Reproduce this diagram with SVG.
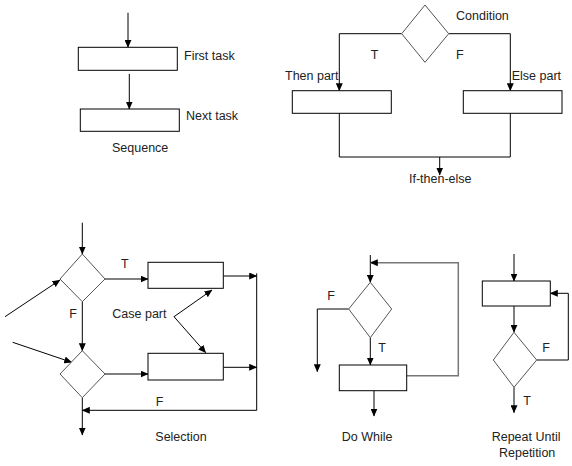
<svg xmlns="http://www.w3.org/2000/svg" width="572" height="466" viewBox="0 0 572 466">
<defs>
<marker id="ah" markerWidth="8" markerHeight="7" refX="7.5" refY="3.5" orient="auto" markerUnits="userSpaceOnUse">
<path d="M0,0 L8,3.5 L0,7 z" fill="#000"/>
</marker>
<style>
.box{fill:#fff;stroke:#000;stroke-width:1}
.dia{fill:#fff;stroke:#555;stroke-width:1}
.ln{fill:none;stroke:#000;stroke-width:1}
.gl{fill:none;stroke:#777;stroke-width:1.5}
.arr{marker-end:url(#ah)}
text{font-family:"Liberation Sans",Arial,sans-serif;font-size:12.5px;fill:#222}
</style>
</defs>
<rect width="572" height="466" fill="#fff"/>
<g id="connectors">
<!-- Sequence -->
<line class="ln arr" x1="128" y1="12.7" x2="128" y2="47.3"/>
<line class="ln arr" x1="129.3" y1="74" x2="129.3" y2="109"/>
<!-- If-then-else -->
<polyline class="ln arr" points="401.7,33.7 339.3,33.7 339.3,90.7"/>
<polyline class="ln arr" points="448.7,33.7 510.3,33.7 510.3,90.7"/>
<polyline class="ln" points="339.3,113.3 339.3,157 510.3,157 510.3,113.3"/>
<line class="ln arr" x1="439.7" y1="157" x2="439.7" y2="175"/>
<!-- Selection -->
<line class="ln arr" x1="82.3" y1="222.7" x2="82.3" y2="254"/>
<line class="ln arr" x1="5" y1="316.7" x2="60" y2="280"/>
<line class="ln arr" x1="105" y1="279" x2="148" y2="279"/>
<line class="ln arr" x1="223.3" y1="276" x2="256.7" y2="276"/>
<line class="ln arr" x1="82.3" y1="301.7" x2="82.3" y2="350.7"/>
<line class="ln arr" x1="12.7" y1="342.3" x2="71.7" y2="362.3"/>
<line class="ln arr" x1="105" y1="374" x2="148" y2="374"/>
<line class="ln arr" x1="223.3" y1="367.3" x2="256.7" y2="367.3"/>
<polyline class="ln arr" points="256.7,273.3 256.7,410.3 82.3,410.3"/>
<line class="ln arr" x1="82.3" y1="397.7" x2="82.3" y2="435"/>
<line class="ln arr" x1="174" y1="316.7" x2="212" y2="290"/>
<line class="ln arr" x1="174" y1="316.7" x2="205.7" y2="352.7"/>
<!-- Do While -->
<line class="ln arr" x1="370.3" y1="255" x2="370.3" y2="282.3"/>
<polyline class="gl arr" points="406.7,375.7 458.3,375.7 458.3,262.7 370.3,262.7"/>
<polyline class="ln arr" points="348.7,309 317.3,309 317.3,371.7"/>
<line class="ln arr" x1="370.3" y1="337.7" x2="370.3" y2="365"/>
<line class="ln arr" x1="374" y1="390.7" x2="374" y2="416"/>
<!-- Repeat Until -->
<line class="ln arr" x1="514" y1="254" x2="514" y2="281"/>
<line class="ln arr" x1="514" y1="306" x2="514" y2="332.3"/>
<polyline class="ln arr" points="536.7,360 568.3,360 568.3,293.3 550.3,293.3"/>
<line class="ln arr" x1="514" y1="387.3" x2="514" y2="412.7"/>
</g>
<g id="seq-first"><rect class="box" x="78.3" y="47.3" width="99" height="23"/><text x="184" y="59.5">First task</text></g>
<g id="seq-next"><rect class="box" x="80.3" y="109" width="99" height="22.3"/><text x="186" y="119.5">Next task</text></g>
<g id="seq-label"><text x="112" y="152">Sequence</text></g>
<g id="ite-cond"><polygon class="dia" points="425,5 448.7,33.7 425,62.3 401.7,33.7"/><text x="456" y="19.5">Condition</text></g>
<g id="ite-then"><rect class="box" x="292.3" y="90.7" width="99" height="22.6"/><text x="285" y="80">Then part</text></g>
<g id="ite-else"><rect class="box" x="463.3" y="90.7" width="98.7" height="22.6"/><text x="511.7" y="80">Else part</text></g>
<g id="ite-labels"><text x="370.7" y="59">T</text><text x="456" y="59">F</text><text x="409" y="183">If-then-else</text></g>
<g id="sel-d1"><polygon class="dia" points="82.3,254 105,279 82.3,301.7 60,279"/></g>
<g id="sel-b1"><rect class="box" x="148" y="262.3" width="75.3" height="26"/></g>
<g id="sel-d2"><polygon class="dia" points="82.3,350.7 105,374 82.3,397.7 60,374"/></g>
<g id="sel-b2"><rect class="box" x="148" y="353.3" width="75.3" height="26.7"/></g>
<g id="sel-labels"><text x="121" y="268">T</text><text x="69.3" y="318">F</text><text x="112.3" y="318">Case part</text><text x="155.7" y="405.7">F</text><text x="155.3" y="440.7">Selection</text></g>
<g id="dw-d"><polygon class="dia" points="370.3,282.3 391.7,309 370.3,337.7 348.7,309"/></g>
<g id="dw-b"><rect class="box" x="339.3" y="365" width="67.4" height="25.7"/></g>
<g id="dw-labels"><text x="327.3" y="300">F</text><text x="378.3" y="351.7">T</text><text x="341.7" y="440.7">Do While</text></g>
<g id="ru-b"><rect class="box" x="482.3" y="281" width="68" height="25"/></g>
<g id="ru-d"><polygon class="dia" points="514,332.3 536.7,360 514,387.3 493.3,360"/></g>
<g id="ru-labels"><text x="542.3" y="351.7">F</text><text x="523.3" y="405">T</text><text x="491.7" y="440.7">Repeat Until</text><text x="499" y="456.7">Repetition</text></g>
</svg>
